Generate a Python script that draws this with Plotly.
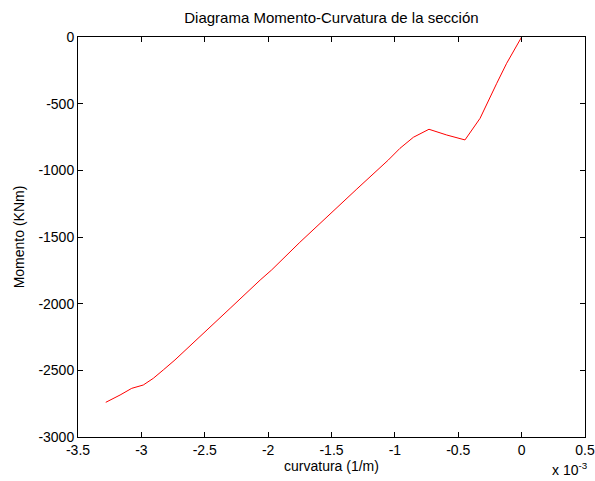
import plotly.graph_objects as go

# curvature in units of 1e-3 (1/m), moment in KNm
curvature = [0.0, -0.118, -0.196, -0.275, -0.328, -0.447, -0.591, -0.731, -0.854,
             -0.96, -1.038, -1.052, -1.3, -1.5, -1.75, -1.972, -2.063, -2.30,
             -2.59, -2.735, -2.827, -2.906, -2.985, -3.076, -3.168, -3.281]
moment = [0, -197, -347, -497, -610, -772, -735, -692, -752,
          -835, -910, -923, -1140, -1318, -1540, -1747, -1823, -2035,
          -2297, -2422, -2497, -2560, -2610, -2635, -2685, -2740]

xticks = [-3.5, -3, -2.5, -2, -1.5, -1, -0.5, 0, 0.5]
xticklabels = ["-3.5", "-3", "-2.5", "-2", "-1.5", "-1", "-0.5", "0", "0.5"]
yticks = [-3000, -2500, -2000, -1500, -1000, -500, 0]
yticklabels = ["-3000", "-2500", "-2000", "-1500", "-1000", "-500", "0"]

font = "Liberation Sans, Arial, sans-serif"
fs = 14

fig = go.Figure()
fig.add_trace(go.Scatter(x=curvature, y=moment, mode="lines",
                         line=dict(color="#ff0000", width=1), showlegend=False))

axis_common = dict(showgrid=False, zeroline=False, showline=True, linecolor="black",
                   linewidth=1, mirror="ticks", ticks="inside", ticklen=5,
                   tickcolor="black", automargin=False,
                   tickfont=dict(family=font, size=fs, color="black"))

fig.update_layout(
    width=595, height=481,
    margin=dict(l=78, r=10, t=37, b=44),
    paper_bgcolor="white", plot_bgcolor="white",
    font=dict(family=font, size=fs, color="black"),
    title=dict(text="Diagrama Momento-Curvatura de la sección", x=0.557, xanchor="center",
               y=0.963, yanchor="middle", automargin=False,
               font=dict(family=font, size=15, color="black")),
    xaxis=dict(range=[-3.5, 0.5], tickvals=xticks, ticktext=xticklabels,
               title=dict(text="curvatura (1/m)", standoff=2,
                          font=dict(family=font, size=fs)), **axis_common),
    yaxis=dict(range=[-3000, 0], tickvals=yticks, ticktext=yticklabels,
               title=dict(text="Momento (KNm)", standoff=10,
                          font=dict(family=font, size=fs)), **axis_common),
)
fig.add_annotation(text="x 10<sup>-3</sup>", xref="paper", yref="paper", x=0.93, y=-0.052,
                   xanchor="left", yanchor="top", showarrow=False,
                   font=dict(family=font, size=fs, color="black"))

fig.write_html("out.html")
